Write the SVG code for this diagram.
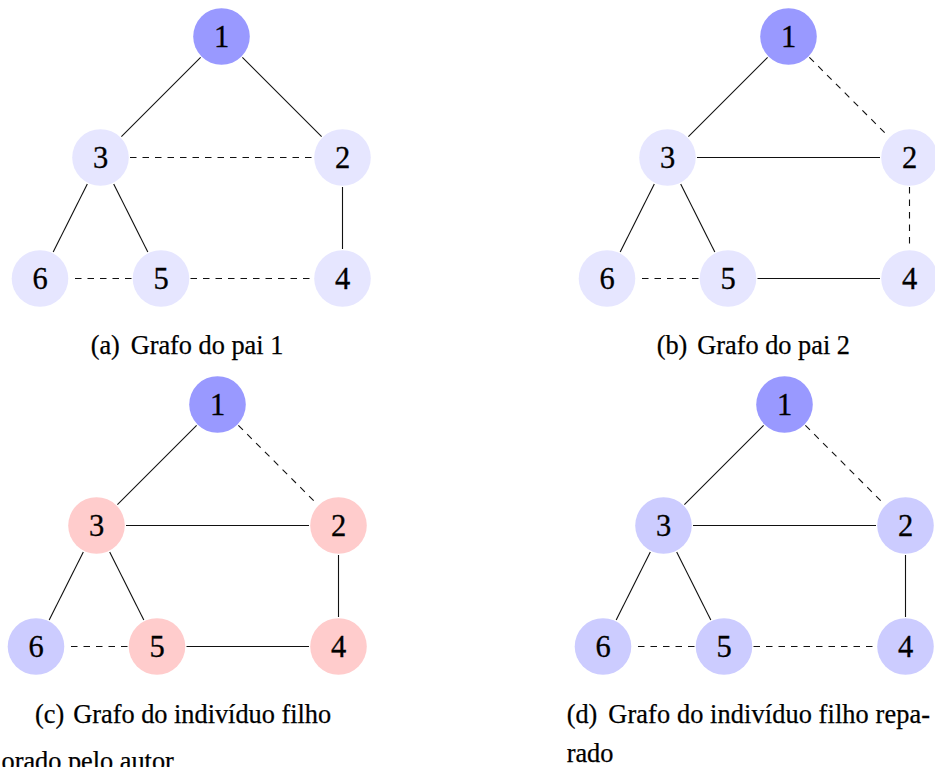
<svg xmlns="http://www.w3.org/2000/svg" width="935" height="767" viewBox="0 0 935 767" font-family="'Liberation Serif', 'DejaVu Serif', serif">
  <style>
    .edge { stroke: #111; stroke-width: 1.1; fill: none; }
    .dash { stroke-dasharray: 6.5 6; }
    .node circle { stroke: none; }
    .node text { font-family: 'Liberation Serif', 'DejaVu Serif', serif; font-size: 30.5px; text-anchor: middle; fill: #000; stroke: #000; stroke-width: 0.3; }
    .cap { font-family: 'Liberation Serif', 'DejaVu Serif', serif; font-size: 26.3px; fill: #000; stroke: #000; stroke-width: 0.25; }
    .root { fill: #9999ff; }
    .light { fill: #e6e6ff; }
    .blue { fill: #ccccff; }
    .red { fill: #ffcccc; }
  </style>
  <defs>
    <!-- shared edge geometry, local frame: node 3 at origin -->
    <line id="e13" x1="100.14" y1="-100.14" x2="20.86" y2="-20.86"/>
    <line id="e12" x1="141.86" y1="-100.14" x2="221.14" y2="-20.86"/>
    <line id="e32" x1="29.5" y1="0" x2="212.5" y2="0"/>
    <line id="e36" x1="-13.19" y1="26.39" x2="-47.31" y2="94.61"/>
    <line id="e35" x1="13.19" y1="26.39" x2="47.31" y2="94.61"/>
    <line id="e24" x1="242" y1="29.5" x2="242" y2="91.5"/>
    <line id="e56" x1="31" y1="121" x2="-31" y2="121"/>
    <line id="e54" x1="90" y1="121" x2="212.5" y2="121"/>
  </defs>

  <!-- (a) parent 1 -->
  <g id="graph-a" transform="translate(100.5,157.5)">
    <g id="a-edges">
      <use href="#e13" class="edge"/>
      <use href="#e12" class="edge"/>
      <use href="#e32" class="edge dash"/>
      <use href="#e36" class="edge"/>
      <use href="#e35" class="edge"/>
      <use href="#e24" class="edge"/>
      <use href="#e56" class="edge dash"/>
      <use href="#e54" class="edge dash"/>
    </g>
    <g id="a-n1" class="node"><circle class="root" cx="121" cy="-121" r="28.3"/><text x="121" y="-110.7">1</text></g>
    <g id="a-n2" class="node"><circle class="light" cx="242" cy="0" r="28.3"/><text x="242" y="10.3">2</text></g>
    <g id="a-n3" class="node"><circle class="light" cx="0" cy="0" r="28.3"/><text x="0" y="10.3">3</text></g>
    <g id="a-n4" class="node"><circle class="light" cx="242" cy="121" r="28.3"/><text x="242" y="131.3">4</text></g>
    <g id="a-n5" class="node"><circle class="light" cx="60.5" cy="121" r="28.3"/><text x="60.5" y="131.3">5</text></g>
    <g id="a-n6" class="node"><circle class="light" cx="-60.5" cy="121" r="28.3"/><text x="-60.5" y="131.3">6</text></g>
  </g>
  <text class="cap" y="354"><tspan x="90.7">(a)</tspan><tspan x="130.7">Grafo do pai 1</tspan></text>

  <!-- (b) parent 2 -->
  <g id="graph-b" transform="translate(667.5,157.5)">
    <g id="b-edges">
      <use href="#e13" class="edge"/>
      <use href="#e12" class="edge dash"/>
      <use href="#e32" class="edge"/>
      <use href="#e36" class="edge"/>
      <use href="#e35" class="edge"/>
      <use href="#e24" class="edge dash"/>
      <use href="#e56" class="edge dash"/>
      <use href="#e54" class="edge"/>
    </g>
    <g id="b-n1" class="node"><circle class="root" cx="121" cy="-121" r="28.3"/><text x="121" y="-110.7">1</text></g>
    <g id="b-n2" class="node"><circle class="light" cx="242" cy="0" r="28.3"/><text x="242" y="10.3">2</text></g>
    <g id="b-n3" class="node"><circle class="light" cx="0" cy="0" r="28.3"/><text x="0" y="10.3">3</text></g>
    <g id="b-n4" class="node"><circle class="light" cx="242" cy="121" r="28.3"/><text x="242" y="131.3">4</text></g>
    <g id="b-n5" class="node"><circle class="light" cx="60.5" cy="121" r="28.3"/><text x="60.5" y="131.3">5</text></g>
    <g id="b-n6" class="node"><circle class="light" cx="-60.5" cy="121" r="28.3"/><text x="-60.5" y="131.3">6</text></g>
  </g>
  <text class="cap" y="354"><tspan x="656.7">(b)</tspan><tspan x="697.3">Grafo do pai 2</tspan></text>

  <!-- (c) offspring -->
  <g id="graph-c" transform="translate(96.5,525.5)">
    <g id="c-edges">
      <use href="#e13" class="edge"/>
      <use href="#e12" class="edge dash"/>
      <use href="#e32" class="edge"/>
      <use href="#e36" class="edge"/>
      <use href="#e35" class="edge"/>
      <use href="#e24" class="edge"/>
      <use href="#e56" class="edge dash"/>
      <use href="#e54" class="edge"/>
    </g>
    <g id="c-n1" class="node"><circle class="root" cx="121" cy="-121" r="28.3"/><text x="121" y="-110.7">1</text></g>
    <g id="c-n2" class="node"><circle class="red" cx="242" cy="0" r="28.3"/><text x="242" y="10.3">2</text></g>
    <g id="c-n3" class="node"><circle class="red" cx="0" cy="0" r="28.3"/><text x="0" y="10.3">3</text></g>
    <g id="c-n4" class="node"><circle class="red" cx="242" cy="121" r="28.3"/><text x="242" y="131.3">4</text></g>
    <g id="c-n5" class="node"><circle class="red" cx="60.5" cy="121" r="28.3"/><text x="60.5" y="131.3">5</text></g>
    <g id="c-n6" class="node"><circle class="blue" cx="-60.5" cy="121" r="28.3"/><text x="-60.5" y="131.3">6</text></g>
  </g>
  <text class="cap" y="722.7"><tspan x="35">(c)</tspan><tspan x="73.3">Grafo do indivíduo filho</tspan></text>

  <!-- (d) repaired offspring -->
  <g id="graph-d" transform="translate(663.5,525.5)">
    <g id="d-edges">
      <use href="#e13" class="edge"/>
      <use href="#e12" class="edge dash"/>
      <use href="#e32" class="edge"/>
      <use href="#e36" class="edge"/>
      <use href="#e35" class="edge"/>
      <use href="#e24" class="edge"/>
      <use href="#e56" class="edge dash"/>
      <use href="#e54" class="edge dash"/>
    </g>
    <g id="d-n1" class="node"><circle class="root" cx="121" cy="-121" r="28.3"/><text x="121" y="-110.7">1</text></g>
    <g id="d-n2" class="node"><circle class="blue" cx="242" cy="0" r="28.3"/><text x="242" y="10.3">2</text></g>
    <g id="d-n3" class="node"><circle class="blue" cx="0" cy="0" r="28.3"/><text x="0" y="10.3">3</text></g>
    <g id="d-n4" class="node"><circle class="blue" cx="242" cy="121" r="28.3"/><text x="242" y="131.3">4</text></g>
    <g id="d-n5" class="node"><circle class="blue" cx="60.5" cy="121" r="28.3"/><text x="60.5" y="131.3">5</text></g>
    <g id="d-n6" class="node"><circle class="blue" cx="-60.5" cy="121" r="28.3"/><text x="-60.5" y="131.3">6</text></g>
  </g>
  <text class="cap" y="722.7"><tspan x="566.7">(d)</tspan><tspan x="608.3" textLength="321.7" lengthAdjust="spacing">Grafo do indivíduo filho repa-</tspan></text>
  <text class="cap" x="566.7" y="761.7">rado</text>

  <!-- source line, running off the lower edge -->
  <text class="cap" x="1.5" y="770">orado pelo autor</text>
</svg>
